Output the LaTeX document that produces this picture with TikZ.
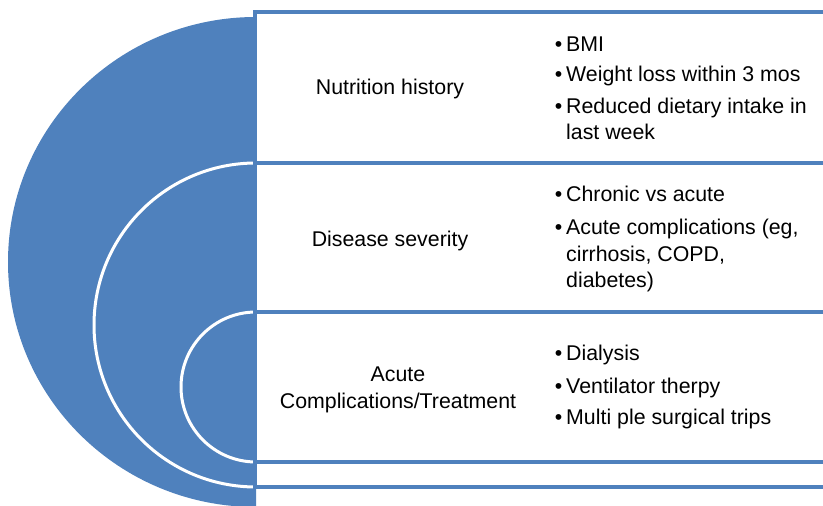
\documentclass[tikz,border=0pt]{standalone}
\usepackage{fontspec}
\setmainfont{Liberation Sans}
\definecolor{azulOffice}{RGB}{79,129,189}
\usepackage{tikz}
\usetikzlibrary{positioning}
\tikzset{
  linha/.style={line width=0.12cm, azulOffice},
  arcobranco/.style={line width=0.09cm, white},
  rotulo/.style={anchor=base, align=center, inner sep=0pt,
                 font=\fontsize{18.2}{23}\selectfont},
  item/.style={anchor=base west, align=left, inner sep=0pt,
               font=\fontsize{18.2}{23}\selectfont},
}
\newcommand{\bul}{\llap{\textbullet\hspace{0.12cm}}}

\begin{document}
\begin{tikzpicture}[x=0.03cm, y=0.03cm]
  \clip (0,0) rectangle (823,505);
  \fill[white] (0,0) rectangle (823,505);
  % semicirculo e arcos internos
  \fill[azulOffice] (256,488) arc[start angle=90, end angle=270, x radius=248, y radius=245] -- cycle;
  \draw[arcobranco] (256,342) arc[start angle=90, end angle=270, radius=162];
  \draw[arcobranco] (256,193) arc[start angle=90, end angle=270, radius=75];
  % linhas da tabela
  \foreach \yy in {492.5,341.5,192.5,43.5,18}
    \draw[linha] (255,\yy) -- (823,\yy);
  \draw[linha] (255,494.5) -- (255,16);

  % base = ultima linha do texto
  \node[rotulo] (nh) at (390,410) {Nutrition history};
  \node[rotulo] (ds) at (390,258) {Disease severity};
  \node[rotulo] (ac) at (398,97) {Acute\\Complications/Treatment};

  \node[item] (i1) at (566,453) {\bul BMI};
  \node[item] (i2) at (566,423) {\bul Weight loss within 3 mos};
  \node[item] (i3) at (566,365) {\bul Reduced dietary intake in\\last week};
  \node[item] (i4) at (566,303) {\bul Chronic vs acute};
  \node[item] (i5) at (566,217) {\bul Acute complications (eg,\\cirrhosis, COPD,\\diabetes)};
  \node[item] (i6) at (566,144) {\bul Dialysis};
  \node[item] (i7) at (566,112) {\bul Ventilator therpy};
  \node[item] (i8) at (566,81) {\bul Multi ple surgical trips};
\end{tikzpicture}
\end{document}
